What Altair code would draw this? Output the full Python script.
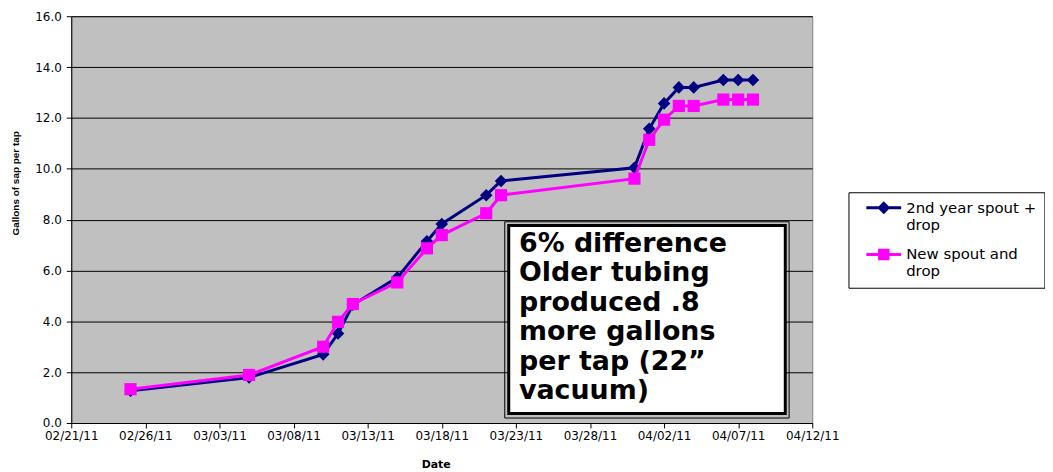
import altair as alt
import pandas as pd

# ---------------- data ----------------
dates = ["2011-02-25", "2011-03-05", "2011-03-10", "2011-03-11", "2011-03-12",
         "2011-03-15", "2011-03-17", "2011-03-18", "2011-03-21", "2011-03-22",
         "2011-03-31", "2011-04-01", "2011-04-02", "2011-04-03", "2011-04-04",
         "2011-04-06", "2011-04-07", "2011-04-08"]
old_spout = [1.27, 1.79, 2.70, 3.52, 4.65, 5.72, 7.15, 7.83, 8.96, 9.52,
             10.04, 11.57, 12.57, 13.20, 13.20, 13.49, 13.49, 13.49]
new_spout = [1.33, 1.89, 3.00, 3.98, 4.68, 5.53, 6.87, 7.39, 8.25, 8.96,
             9.61, 11.14, 11.93, 12.47, 12.47, 12.72, 12.72, 12.72]
series = ["2nd year spout + drop", "New spout and drop"]
series_colors = ["#000080", "#FF00FF"]
x_ticks = ["2011-02-21", "2011-02-26", "2011-03-03", "2011-03-08", "2011-03-13",
           "2011-03-18", "2011-03-23", "2011-03-28", "2011-04-02", "2011-04-07",
           "2011-04-12"]
y_ticks = [0, 2, 4, 6, 8, 10, 12, 14, 16]
note_lines = ["6% difference", "Older tubing", "produced .8", "more gallons",
              "per tap (22\u201d", "vacuum)"]


def utc_ms(s):
    return int(pd.Timestamp(s, tz="UTC").value // 10**6)


DAY = 86400000
x0 = utc_ms(x_ticks[0])
x1 = utc_ms(x_ticks[-1])

df = pd.DataFrame({
    "date": dates * 2,
    "gallons": old_spout + new_spout,
    "series": [series[0]] * len(dates) + [series[1]] * len(dates),
})

# annotation box (in data coordinates: days after first tick, gallons)
box_outer = pd.DataFrame({"x": [x0 + 29.25 * DAY], "x2": [x0 + 48.44 * DAY],
                          "y": [0.196], "y2": [7.915]})
box_inner = pd.DataFrame({"x": [x0 + 29.52 * DAY], "x2": [x0 + 48.18 * DAY],
                          "y": [0.372], "y2": [7.766]})
note_pos = pd.DataFrame({"x": [x0 + 30.21 * DAY], "y": [7.562]})

# ---------------- scales / axes ----------------
x_scale = alt.Scale(type="utc", domain=[x0, x1])
y_scale = alt.Scale(domain=[0, 16], nice=False, zero=True)
color_scale = alt.Scale(domain=series, range=series_colors)

x_axis = alt.Axis(
    values=[utc_ms(t) for t in x_ticks],
    labelExpr="utcFormat(datum.value, '%m/%d/%y')",
    grid=False, domainColor="black", domainWidth=1,
    tickColor="black", tickSize=5, labelPadding=3,
    labelFont="DejaVu Sans", labelFontSize=12, labelColor="black",
    labelOverlap=False, labelFlush=False,
    title="Date", titleFont="DejaVu Sans", titleFontSize=11,
    titleFontWeight="bold", titleColor="black",
    titleX=366.4, titleY=42, titleBaseline="middle", titleAlign="center",
)
y_axis = alt.Axis(
    values=y_ticks, format=".1f",
    grid=True, gridColor="black", gridWidth=1,
    domainColor="black", domainWidth=1,
    tickColor="black", tickSize=5, labelPadding=5,
    labelFont="DejaVu Sans", labelFontSize=12, labelColor="black",
    title="Gallons of sap per tap", titleFont="Liberation Sans",
    titleFontSize=10, titleFontWeight="bold", titleColor="black",
    titleX=-55.6, titleY=167.5, titleBaseline="middle", titleAlign="center",
    titleAngle=270,
)

X = alt.X("date:T", scale=x_scale, axis=x_axis)
Y = alt.Y("gallons:Q", scale=y_scale, axis=y_axis)

base = alt.Chart(df)


def series_layers(i, shape, size):
    d = base.transform_filter(alt.datum.series == series[i])
    line = d.mark_line(strokeWidth=3, color=series_colors[i]).encode(x=X, y=Y)
    pts = d.mark_point(shape=shape, size=size, filled=True, opacity=1,
                       color=series_colors[i]).encode(x=X, y=Y)
    return [line, pts]


# legend symbols: a line with the marker on it
# (symbol size 225 -> 7.5 px per path unit)
diamond_path = ("M-2.333,-0.2H2.333V0.2H-2.333Z "
                "M0,-0.867L0.867,0L0,0.867L-0.867,0Z")
square_path = ("M-2.333,-0.2H2.333V0.2H-2.333Z "
               "M-0.767,-0.767H0.767V0.767H-0.767Z")

legend_def = alt.Legend(
    title=None, orient="none", legendX=781.4, legendY=177,
    fillColor="white", strokeColor="black", cornerRadius=0,
    padding=8, rowPadding=14, symbolOffset=20, labelOffset=15,
    symbolSize=225, symbolStrokeWidth=0, symbolOpacity=1,
    labelFont="DejaVu Sans", labelFontSize=15, labelColor="black",
    labelBaseline="middle", labelLimit=300,
    labelExpr=("datum.label == '2nd year spout + drop' ? "
               "['2nd year spout +', 'drop'] : ['New spout and', 'drop']"),
)

legend_layer = base.transform_filter("false").mark_point(
    filled=True, opacity=1).encode(
    x=X, y=Y,
    color=alt.Color("series:N", scale=color_scale, legend=legend_def),
    shape=alt.Shape("series:N",
                    scale=alt.Scale(domain=series,
                                    range=[diamond_path, square_path]),
                    legend=legend_def),
)

BX = alt.X("x:T", scale=x_scale, axis=x_axis)
outer = alt.Chart(box_outer).mark_rect(
    fill="transparent", stroke="black", strokeWidth=1).encode(
    x=BX, x2="x2:T", y=alt.Y("y:Q", scale=y_scale, axis=y_axis), y2="y2:Q")
inner = alt.Chart(box_inner).mark_rect(
    fill="white", stroke="black", strokeWidth=3).encode(
    x=BX, x2="x2:T", y=alt.Y("y:Q", scale=y_scale, axis=y_axis), y2="y2:Q")
note = alt.Chart(note_pos).mark_text(
    text=note_lines, align="left", baseline="top",
    font="DejaVu Sans", fontWeight="bold", fontSize=27, lineHeight=29.7,
    color="black").encode(
    x=BX, y=alt.Y("y:Q", scale=y_scale, axis=y_axis))

layers = (series_layers(0, "diamond", 160)
          + series_layers(1, "square", 150)
          + [legend_layer, outer, inner, note])

chart = alt.layer(*layers).properties(
    width=745, height=409,
    autosize=alt.AutoSizeParams(type="none"),
    padding={"left": 63.6, "top": 7, "right": 234, "bottom": 47},
    background="white",
).configure_view(
    fill="#C0C0C0", stroke="#808080", strokeWidth=1,
).configure_legend(
    strokeWidth=1,
)

chart.save("out.html", embed_options={"renderer": "svg", "actions": False})
